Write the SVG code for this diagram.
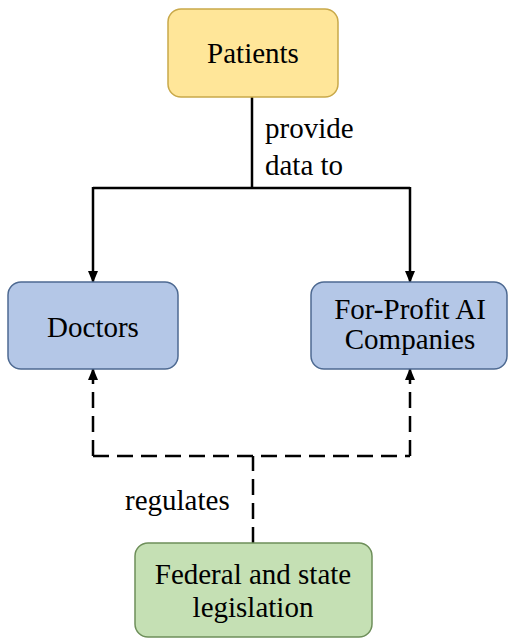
<svg xmlns="http://www.w3.org/2000/svg" width="509" height="639" viewBox="0 0 509 639">
<style>
.t{font-family:'Liberation Serif','Times New Roman',serif;font-size:29px;fill:#000;}
.m{text-anchor:middle;}
.solid{fill:none;stroke:#000;stroke-width:2.5;}
.dash{fill:none;stroke:#000;stroke-width:2.5;stroke-dasharray:16 8;}
</style>
<defs>
<marker id="ah" markerWidth="12" markerHeight="12" refX="11" refY="6" orient="auto" markerUnits="userSpaceOnUse" viewBox="0 0 12 12">
<path d="M0,1 L12,6 L0,11 Z" fill="#000"/>
</marker>
</defs>
<rect width="509" height="639" fill="#fff"/>
<g id="connectors">
<path class="solid" d="M252,97 V188"/>
<path class="solid" d="M93,188 H410"/>
<path class="solid" d="M93,187 V282" marker-end="url(#ah)"/>
<path class="solid" d="M410,187 V282" marker-end="url(#ah)"/>
<path class="dash" d="M253,543 V456"/>
<path class="dash" d="M93,456 H410"/>
<path class="dash" d="M93,456 V369" marker-end="url(#ah)"/>
<path class="dash" d="M410,456 V369" marker-end="url(#ah)"/>
<text class="t" x="265" y="138">provide</text>
<text class="t" x="265" y="175">data to</text>
<text class="t" x="125" y="510">regulates</text>
</g>
<g id="patients">
<rect x="168" y="9" width="170" height="88" rx="13" fill="#FFE699" stroke="#C9A94A" stroke-width="1.5"/>
<text class="t m" x="253" y="63">Patients</text>
</g>
<g id="doctors">
<rect x="8" y="282" width="170" height="87" rx="13" fill="#B4C7E7" stroke="#4E6A92" stroke-width="1.5"/>
<text class="t m" x="93" y="337">Doctors</text>
</g>
<g id="companies">
<rect x="311" y="282" width="196" height="87" rx="13" fill="#B4C7E7" stroke="#4E6A92" stroke-width="1.5"/>
<text class="t m" x="410" y="319">For-Profit AI</text>
<text class="t m" x="410" y="349">Companies</text>
</g>
<g id="legislation">
<rect x="135" y="543" width="237" height="94" rx="13" fill="#C5E0B4" stroke="#6E8F5A" stroke-width="1.5"/>
<text class="t m" x="253" y="584">Federal and state</text>
<text class="t m" x="253" y="617">legislation</text>
</g>
</svg>
